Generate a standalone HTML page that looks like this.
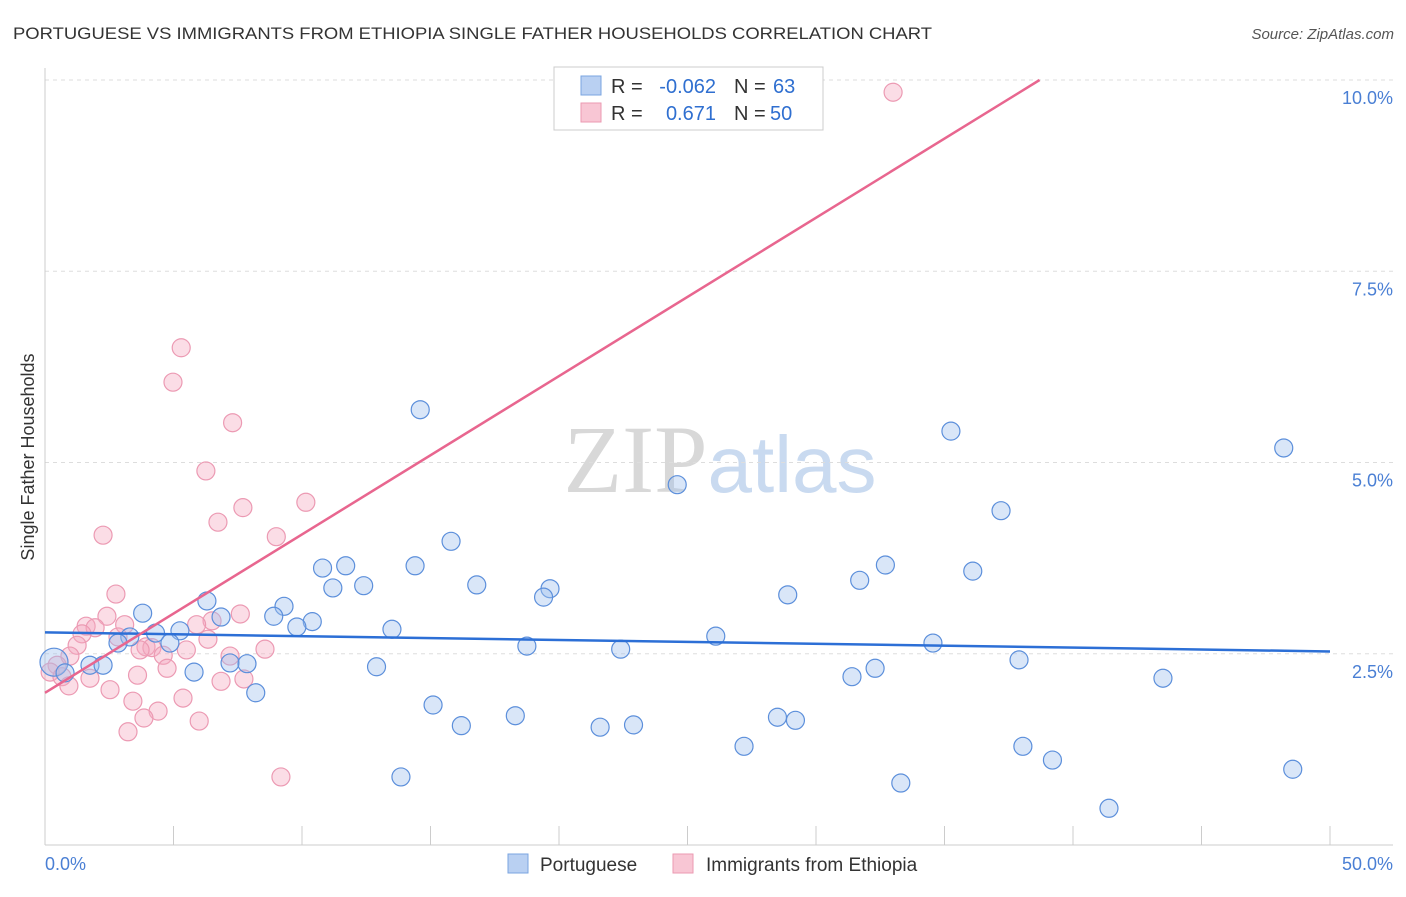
<!DOCTYPE html>
<html><head><meta charset="utf-8"><style>
body{margin:0;background:#fff;font-family:"Liberation Sans",sans-serif}
</style></head><body>
<svg id="chart" width="1406" height="892" xmlns="http://www.w3.org/2000/svg" style="font-family:'Liberation Sans',sans-serif">
<text x="13" y="39" font-size="17" fill="#333" textLength="919" lengthAdjust="spacingAndGlyphs">PORTUGUESE VS IMMIGRANTS FROM ETHIOPIA SINGLE FATHER HOUSEHOLDS CORRELATION CHART</text>
<text x="1394" y="39" font-size="15" fill="#555" text-anchor="end" font-style="italic">Source: ZipAtlas.com</text>
<text x="720" y="492" font-size="96" text-anchor="middle" fill="#ddd" font-family="Liberation Serif"><tspan fill="#d8d8d8">ZIP</tspan><tspan fill="#c9daf0" font-family="Liberation Sans" font-size="80">atlas</tspan></text>
<g id="grid"></g>
<line x1="45" y1="68" x2="45" y2="845" stroke="#ccc"/>
<line x1="45" y1="845" x2="1393" y2="845" stroke="#ccc"/>
<g id="ticks"></g>
<text transform="translate(34,457) rotate(-90)" font-size="18" fill="#333" text-anchor="middle">Single Father Households</text>
<text x="45" y="870" font-size="18" fill="#4a7fd4">0.0%</text>
<text x="1393" y="870" font-size="18" fill="#4a7fd4" text-anchor="end">50.0%</text>
<g id="points"></g>
<g id="lines"></g>
<g>
<rect x="554" y="67" width="269" height="63" fill="#fff" stroke="#ccc"/>
<rect x="581" y="76" width="20" height="19" fill="#b9d0f2" stroke="#7aa4e0"/>
<rect x="581" y="103" width="20" height="19" fill="#f8c6d4" stroke="#eb9ab2"/>
<text x="611" y="93" font-size="20" fill="#333">R =</text>
<text x="716" y="93" font-size="20" fill="#2f6fd0" text-anchor="end">-0.062</text>
<text x="734" y="93" font-size="20" fill="#333">N =</text>
<text x="773" y="93" font-size="20" fill="#2f6fd0">63</text>
<text x="611" y="120" font-size="20" fill="#333">R =</text>
<text x="716" y="120" font-size="20" fill="#2f6fd0" text-anchor="end">0.671</text>
<text x="734" y="120" font-size="20" fill="#333">N =</text>
<text x="770" y="120" font-size="20" fill="#2f6fd0">50</text>
</g>
<g>
<rect x="508" y="854" width="20" height="19" fill="#b9d0f2" stroke="#7aa4e0"/>
<text x="540" y="871" font-size="19" fill="#333">Portuguese</text>
<rect x="673" y="854" width="20" height="19" fill="#f8c6d4" stroke="#eb9ab2"/>
<text x="706" y="871" font-size="19" fill="#333">Immigrants from Ethiopia</text>
</g>
</svg>
<script>
const yTicks=[2.5,5,7.5,10];
const yTickLabels=["2.5%","5.0%","7.5%","10.0%"];
const blueX=[14.6,35.25,48.2,24.6,37.2,15.8,10.8,11.7,14.4,32.7,36.1,11.2,12.4,16.8,19.65,19.4,28.9,31.7,6.3,9.3,3.8,8.9,6.85,10.4,9.8,13.5,4.3,5.25,3.3,2.84,4.86,26.1,18.75,22.4,34.55,37.9,1.75,2.26,0.35,0.78,5.8,7.2,7.86,12.9,32.3,31.4,43.5,8.2,15.1,18.3,16.2,21.6,22.9,28.5,29.2,27.2,38.05,39.2,13.85,33.3,48.55,41.4];
const blueY=[5.69,5.41,5.19,4.71,4.37,3.97,3.62,3.65,3.65,3.66,3.58,3.36,3.39,3.40,3.35,3.24,3.27,3.46,3.19,3.12,3.03,2.99,2.98,2.92,2.85,2.82,2.77,2.80,2.72,2.64,2.64,2.73,2.60,2.56,2.64,2.42,2.35,2.35,2.39,2.25,2.26,2.38,2.37,2.33,2.31,2.20,2.18,1.99,1.83,1.69,1.56,1.54,1.57,1.67,1.63,1.29,1.29,1.11,0.89,0.81,0.99,0.48];
const pinkX=[33.0,5.3,4.98,7.3,6.26,10.15,7.7,6.73,2.26,9.0,2.76,2.41,7.6,6.5,1.6,1.95,3.1,5.9,1.44,2.84,3.93,4.16,6.34,3.7,5.5,8.56,4.6,1.25,0.97,7.2,0.47,4.75,0.2,0.66,1.75,3.6,7.74,6.85,0.93,2.53,5.37,3.42,4.4,3.85,6.0,3.23,9.18];
const pinkY=[9.84,6.50,6.05,5.52,4.89,4.48,4.41,4.22,4.05,4.03,3.28,2.99,3.02,2.93,2.86,2.84,2.88,2.88,2.76,2.72,2.59,2.58,2.69,2.55,2.55,2.56,2.48,2.61,2.47,2.47,2.35,2.31,2.26,2.20,2.18,2.22,2.17,2.14,2.08,2.03,1.92,1.88,1.75,1.66,1.62,1.48,0.89];
const blueTrend=[2.78,2.53];
const pinkTrend=[1.99,10.0];
const pinkTrendEndX=38.7;
const NS="http://www.w3.org/2000/svg";
const sx=v=>45+v/50*1285, sy=v=>845-v*76.5;
function mk(t,a,p){const e=document.createElementNS(NS,t);for(const k in a)e.setAttribute(k,a[k]);p.appendChild(e);return e;}
const grid=document.getElementById('grid');
yTicks.forEach((t,i)=>{
 const l=mk('line',{x1:45,x2:1393,y1:sy(t),y2:sy(t),stroke:'#ddd','stroke-dasharray':'4,4'},grid);
 
 
 const tx=mk('text',{x:1393,y:sy(t)+24,'font-size':18,fill:'#4a7fd4','text-anchor':'end'},grid);
 tx.textContent=yTickLabels[i];
 
 
});
const ticks=document.getElementById('ticks');
for(let i=0;i<=10;i++){const v=i*5;
 const l=mk('line',{x1:sx(v),x2:sx(v),y1:826,y2:845,stroke:'#ccc'},ticks);
 
 
}
const pts=document.getElementById('points');
pinkX.forEach((x,i)=>{
 const c=mk('circle',{cx:sx(x),cy:sy(pinkY[i]),r:9,fill:'rgba(246,170,192,0.4)',stroke:'#ec9ab3','stroke-width':1.2},pts);
 
 
});
blueX.forEach((x,i)=>{
 const c=mk('circle',{cx:sx(x),cy:sy(blueY[i]),r:i==38?14:9,fill:'rgba(160,192,238,0.4)',stroke:'#5c8fdb','stroke-width':1.2},pts);
 
 
});
const lines=document.getElementById('lines');
const bl=mk('line',{x1:sx(0),y1:sy(blueTrend[0]),x2:sx(50),y2:sy(blueTrend[1]),stroke:'#2c6fd6','stroke-width':2.5},lines);


const pl=mk('line',{x1:sx(0),y1:sy(pinkTrend[0]),x2:sx(pinkTrendEndX),y2:sy(pinkTrend[1]),stroke:'#e8668f','stroke-width':2.5},lines);


</script>
</body></html>
